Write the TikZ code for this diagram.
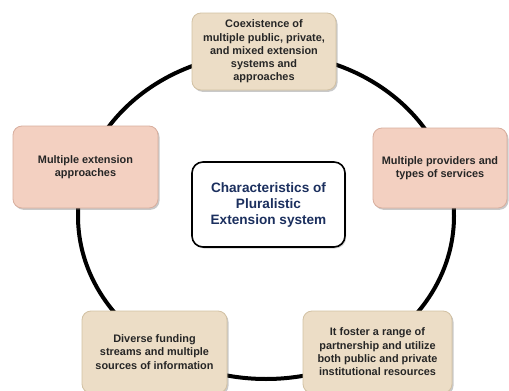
\documentclass[tikz,border=0pt]{standalone}
\usepackage{fontspec}
\setmainfont{Liberation Sans}
\usetikzlibrary{shadows}
\definecolor{tanfill}{HTML}{ECDDC6}
\definecolor{tanline}{HTML}{D2C1A3}
\definecolor{pinkfill}{HTML}{F3D0C1}
\definecolor{pinkline}{HTML}{D8AE9E}
\definecolor{navy}{HTML}{1B2F5E}
\tikzset{
  card/.style={rectangle, rounded corners=9pt, line width=0.8pt, align=center,
    font=\bfseries\fontsize{10.9}{13.3}\selectfont, text=black!85,
    inner sep=2pt,
    drop shadow={shadow xshift=1.5pt, shadow yshift=-1.8pt, opacity=0.35, fill=black!60}},
  tancard/.style={card, fill=tanfill, draw=tanline},
  pinkcard/.style={card, fill=pinkfill, draw=pinkline},
  hubcard/.style={rectangle, rounded corners=11pt, line width=1.6pt, draw=black, fill=white,
    align=center, font=\bfseries\fontsize{13.6}{16}\selectfont, text=navy,
    drop shadow={shadow xshift=1.2pt, shadow yshift=-1.5pt, opacity=0.3, fill=black!60}},
  ring/.style={line width=4pt, draw=black}
}
\begin{document}
\begin{tikzpicture}[x=1pt,y=-1pt]
\useasboundingbox[fill=white] (0,0) rectangle (509,391);
\draw[ring] (266,216) ellipse [x radius=188pt, y radius=163pt];
\node[tancard, minimum width=144pt, minimum height=77pt] (top) at (264,51.5)
  {Coexistence of\\multiple public, private,\\and mixed extension\\systems and\\approaches};
\node[pinkcard, minimum width=134pt, minimum height=80pt] (right) at (440,168)
  {Multiple providers and\\types of services};
\node[pinkcard, minimum width=145pt, minimum height=82pt] (left) at (85.5,167)
  {Multiple extension\\approaches};
\node[tancard, minimum width=145pt, minimum height=82pt] (bl) at (154.5,352)
  {Diverse funding\\streams and multiple\\sources of information};
\node[tancard, minimum width=149pt, minimum height=82pt] (br) at (377.5,352)
  {It foster a range of\\partnership and utilize\\both public and private\\institutional resources};
\node[hubcard, minimum width=153pt, minimum height=85pt] (hub) at (268.5,204.5)
  {Characteristics of\\Pluralistic\\Extension system};
\end{tikzpicture}
\end{document}
